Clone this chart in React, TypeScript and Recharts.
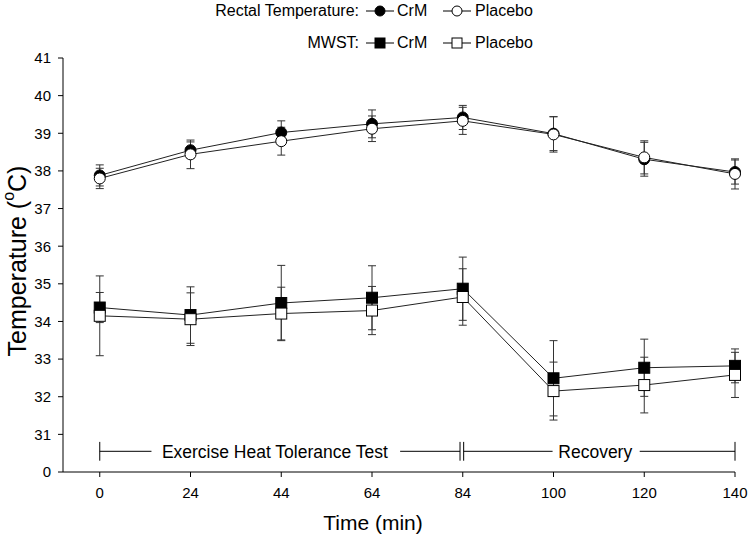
import React from 'react';
import {
  LineChart,
  Line,
  XAxis,
  YAxis,
  ErrorBar,
  ReferenceLine,
  ReferenceDot,
} from 'recharts';

const times = [0, 24, 44, 64, 84, 100, 120, 140];

const rectalCrM = [37.88, 38.55, 39.02, 39.25, 39.42, 38.99, 38.31, 37.97];
const rectalCrMErr = [0.28, 0.22, 0.31, 0.37, 0.32, 0.45, 0.45, 0.32];
const rectalPlacebo = [37.8, 38.44, 38.79, 39.12, 39.33, 38.97, 38.36, 37.92];
const rectalPlaceboErr = [0.27, 0.38, 0.37, 0.34, 0.36, 0.47, 0.44, 0.4];

const mwstCrM = [34.37, 34.17, 34.49, 34.63, 34.87, 32.49, 32.77, 32.82];
const mwstCrMErr = [0.4, 0.75, 1.0, 0.85, 0.84, 1.0, 0.76, 0.45];
const mwstPlacebo = [34.15, 34.06, 34.21, 34.29, 34.65, 32.15, 32.31, 32.58];
const mwstPlaceboErr = [1.06, 0.7, 0.7, 0.64, 0.75, 0.77, 0.74, 0.6];

// y axis is broken: the bottom slot (30) is labelled 0
const yTicks = [30, 31, 32, 33, 34, 35, 36, 37, 38, 39, 40, 41];

const data = times.map((t, i) => ({
  i,
  t,
  rCrM: rectalCrM[i],
  rCrMErr: rectalCrMErr[i],
  rPla: rectalPlacebo[i],
  rPlaErr: rectalPlaceboErr[i],
  mCrM: mwstCrM[i],
  mCrMErr: mwstCrMErr[i],
  mPla: mwstPlacebo[i],
  mPlaErr: mwstPlaceboErr[i],
}));

const FONT = '"Liberation Sans", Arial, Helvetica, sans-serif';
const INK = '#000';
const LINE = '#222';

const circleDot = (fill: string) => (p: any) => (
  <circle key={`c-${p.index}`} cx={p.cx} cy={p.cy} r={5.5} fill={fill} stroke={INK} strokeWidth={1} />
);

const squareDot = (fill: string) => (p: any) => (
  <rect
    key={`s-${p.index}`}
    x={p.cx - 5.5}
    y={p.cy - 5.5}
    width={11}
    height={11}
    fill={fill}
    stroke={INK}
    strokeWidth={1}
  />
);

const YTitle = ({ viewBox }: any) => {
  const cx = 17;
  const cy = viewBox.y + viewBox.height / 2 - 4;
  return (
    <text
      x={cx}
      y={cy}
      transform={`rotate(-90, ${cx}, ${cy})`}
      textAnchor="middle"
      dominantBaseline="central"
      fontFamily={FONT}
      fontSize={25}
      fill={INK}
    >
      Temperature (<tspan dy={-9} fontSize={16}>o</tspan>
      <tspan dy={9}>C)</tspan>
    </text>
  );
};

const XTitle = ({ viewBox }: any) => (
  <text
    x={viewBox.x + viewBox.width / 2 - 26}
    y={viewBox.y + 58}
    textAnchor="middle"
    fontFamily={FONT}
    fontSize={21}
    fill={INK}
  >
    Time (min)
  </text>
);

const Glyph = ({ shape, filled }: { shape: 'circle' | 'square'; filled: boolean }) => (
  <svg width={28} height={14} style={{ position: 'absolute' }}>
    <line x1={0} y1={7} x2={28} y2={7} stroke={INK} strokeWidth={1} />
    {shape === 'circle' ? (
      <circle cx={14} cy={7} r={5} fill={filled ? INK : '#fff'} stroke={INK} />
    ) : (
      <rect x={9} y={2} width={10} height={10} fill={filled ? INK : '#fff'} stroke={INK} />
    )}
  </svg>
);

const txt: React.CSSProperties = {
  position: 'absolute',
  fontFamily: FONT,
  fontSize: 16,
  lineHeight: '18px',
  color: INK,
  whiteSpace: 'nowrap',
};

const LegendRow = ({ title, top, shape }: { title: string; top: number; shape: 'circle' | 'square' }) => (
  <>
    <span style={{ ...txt, right: 748 - 359, top: top - 9 }}>{title}</span>
    <div style={{ position: 'absolute', left: 366, top: top - 7 }}>
      <Glyph shape={shape} filled />
    </div>
    <span style={{ ...txt, left: 397, top: top - 9 }}>CrM</span>
    <div style={{ position: 'absolute', left: 443, top: top - 7 }}>
      <Glyph shape={shape} filled={false} />
    </div>
    <span style={{ ...txt, left: 475, top: top - 9 }}>Placebo</span>
  </>
);

const bracketY = 30.55;
const capLo = 30.3;
const capHi = 30.8;

const seg = (x1: number, y1: number, x2: number, y2: number, key: string) => (
  <ReferenceLine
    key={key}
    segment={[
      { x: x1, y: y1 },
      { x: x2, y: y2 },
    ]}
    stroke={INK}
    strokeWidth={1}
  />
);

const bandLabel = (x: number, text: string) => (
  <ReferenceDot
    key={text}
    x={x}
    y={bracketY}
    r={0}
    fill="none"
    stroke="none"
    label={{ value: text, position: 'center', fontFamily: FONT, fontSize: 17.5, fill: INK }}
  />
);

export default function App() {
  return (
    <div style={{ position: 'absolute', left: 0, top: 0, width: 748, height: 543, background: '#fff' }}>
      <LineChart width={748} height={543} data={data} margin={{ top: 58, right: 13, bottom: 0, left: 0 }}>
        <XAxis
          type="number"
          dataKey="i"
          domain={[-0.405, 7]}
          ticks={[0, 1, 2, 3, 4, 5, 6, 7]}
          tickFormatter={(v: number) => String(times[v])}
          height={71}
          tickSize={5}
          tickMargin={10}
          axisLine={{ stroke: INK }}
          tickLine={{ stroke: INK }}
          tick={{ fontFamily: FONT, fontSize: 15, fill: INK }}
          label={<XTitle />}
        />
        <YAxis
          type="number"
          domain={[30, 41]}
          ticks={yTicks}
          interval={0}
          tickFormatter={(v: number) => (v === 30 ? '0' : String(v))}
          width={63}
          tickSize={5}
          tickMargin={7}
          axisLine={{ stroke: INK }}
          tickLine={{ stroke: INK }}
          tick={{ fontFamily: FONT, fontSize: 15, fill: INK }}
          label={<YTitle />}
        />

        {seg(0, bracketY, 0.57, bracketY, 'e1')}
        {seg(3.31, bracketY, 3.97, bracketY, 'e2')}
        {seg(0, capLo, 0, capHi, 'ec')}
        {seg(3.97, capLo, 3.97, capHi, 'm1')}
        {seg(4.01, capLo, 4.01, capHi, 'm2')}
        {seg(4.01, bracketY, 4.99, bracketY, 'r1')}
        {seg(5.95, bracketY, 7, bracketY, 'r2')}
        {seg(7, capLo, 7, capHi, 'rc')}
        {bandLabel(1.93, 'Exercise Heat Tolerance Test')}
        {bandLabel(5.46, 'Recovery')}

        <Line dataKey="rCrM" stroke={LINE} strokeWidth={1} dot={circleDot(INK)} isAnimationActive={false}>
          <ErrorBar dataKey="rCrMErr" direction="y" width={4} stroke="#333" strokeWidth={1} />
        </Line>
        <Line dataKey="rPla" stroke={LINE} strokeWidth={1} dot={circleDot('#fff')} isAnimationActive={false}>
          <ErrorBar dataKey="rPlaErr" direction="y" width={4} stroke="#333" strokeWidth={1} />
        </Line>
        <Line dataKey="mCrM" stroke={LINE} strokeWidth={1} dot={squareDot(INK)} isAnimationActive={false}>
          <ErrorBar dataKey="mCrMErr" direction="y" width={4} stroke="#333" strokeWidth={1} />
        </Line>
        <Line dataKey="mPla" stroke={LINE} strokeWidth={1} dot={squareDot('#fff')} isAnimationActive={false}>
          <ErrorBar dataKey="mPlaErr" direction="y" width={4} stroke="#333" strokeWidth={1} />
        </Line>
      </LineChart>
      <LegendRow title="Rectal Temperature:" top={11} shape="circle" />
      <LegendRow title="MWST:" top={43} shape="square" />
    </div>
  );
}
